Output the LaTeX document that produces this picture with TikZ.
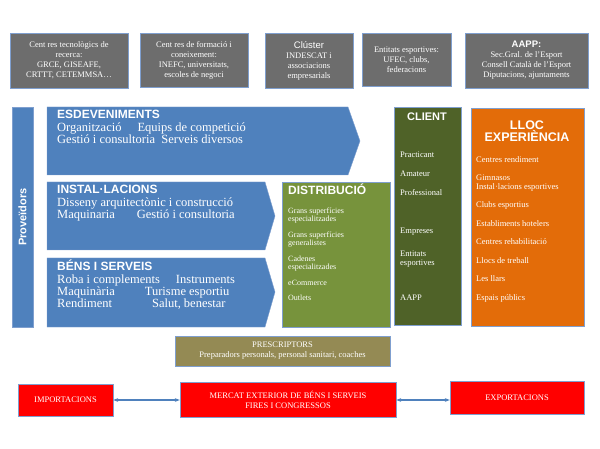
\documentclass[tikz,border=0pt]{standalone}
\usepackage{fontspec}
\setmainfont{Liberation Serif}
\newfontfamily\hdr{Liberation Sans}
\usetikzlibrary{shapes.arrows,arrows.meta}
\definecolor{boxgray}{HTML}{6D6D6D}
\definecolor{edgeblue}{HTML}{7F9FCF}
\definecolor{flowblue}{HTML}{4F81BD}
\definecolor{distgreen}{HTML}{77933C}
\definecolor{clientgreen}{HTML}{4F6228}
\definecolor{placeorange}{HTML}{E36C09}
\definecolor{prescolive}{HTML}{948A54}
\tikzset{
  topbox/.style={draw=edgeblue,fill=boxgray,text=white,align=center,font=\rmfamily\fontsize{8.5}{10}\selectfont,inner sep=0pt},
  flowtext/.style={text=white,anchor=north west,align=left,inner sep=0pt},
  redbox/.style={draw=edgeblue,fill=red,text=white,align=center,font=\rmfamily\fontsize{8.5}{10.5}\selectfont},
  link/.style={<->,>={Stealth[length=5pt]},very thick,color=flowblue}
}
\newcommand{\headtxt}[1]{{\hdr\bfseries\fontsize{12}{12}\selectfont #1}}
\newcommand{\bodytxt}{\rmfamily\mdseries\fontsize{12.5}{14}\selectfont}
\begin{document}
\begin{tikzpicture}[x=1pt,y=-1pt]
    \useasboundingbox (0,0) rectangle (600,449);
    % top row
    \draw [topbox] (10,33) rectangle (128,88) node [midway] (tec) {Cent res tecnològics de\\recerca:\\GRCE, GISEAFE,\\CRTTT, CETEMMSA\dots};
    \draw [topbox] (140,33) rectangle (248,87) node [midway] (form) {Cent res de formació i\\coneixement:\\INEFC, universitats,\\escoles de negoci};
    \draw [topbox] (265,33) rectangle (353,88) node [midway] (clus) {{\hdr\fontsize{9.5}{10}\selectfont Clúster}\\INDESCAT i\\associacions\\empresarials};
    \draw [topbox] (362,33) rectangle (451,86) node [midway] (ent) {Entitats esportives:\\UFEC, clubs,\\federacions};
    \draw [topbox] (465,33) rectangle (588,88) node [midway] (aapp) {{\hdr\bfseries\fontsize{9.5}{10}\selectfont AAPP:}\\Sec.Gral. de l'Esport\\Consell Català de l'Esport\\Diputacions, ajuntaments};
    % proveidors
    \draw [draw=edgeblue,fill=flowblue] (12,107) rectangle (33,327) node [midway,rotate=90,text=white,font=\hdr\bfseries\fontsize{11}{12}\selectfont] (prov) {Proveïdors};
    % flow arrows
    \draw [draw=edgeblue,fill=flowblue] (47,107) -- (348,107) -- (360,141) -- (348,175) -- (47,175) -- cycle;
    \node [flowtext] (esd) at (57,110) {\headtxt{ESDEVENIMENTS}\\[1pt]
      \bodytxt Organització\hspace{16pt}Equips de competició\\\bodytxt Gestió i consultoria\ \ Serveis diversos};
    \draw [draw=edgeblue,fill=flowblue] (47,182) -- (265,182) -- (275,216) -- (265,250) -- (47,250) -- cycle;
    \node [flowtext] (inst) at (57,185) {\headtxt{INSTAL·LACIONS}\\[1pt]
      \bodytxt Disseny arquitectònic i construcció\\\bodytxt Maquinaria\hspace{22pt}Gestió i consultoria};
    \draw [draw=edgeblue,fill=flowblue] (47,258) -- (265,258) -- (275,292) -- (265,327) -- (47,327) -- cycle;
    \node [flowtext] (bens) at (57,260) {\headtxt{BÉNS I SERVEIS}\\[1pt]
      \bodytxt Roba i complements\hspace{16pt}Instruments\\\bodytxt Maquinària\hspace{30pt}Turisme esportiu\\\bodytxt Rendiment\hspace{40pt}Salut, benestar};
    % distribucio
    \draw [draw=edgeblue,fill=distgreen] (282,182) rectangle (390,327);
    \node [flowtext,font=\rmfamily\fontsize{8}{8.5}\selectfont] (dist) at (288,184) {\headtxt{DISTRIBUCIÓ}\\[10pt]
      Grans superfícies\\especialitzades\\[7pt]Grans superfícies\\generalistes\\[7pt]Cadenes\\especialitzades\\[7pt]eCommerce\\[7pt]Outlets};
    % client
    \draw [draw=edgeblue,fill=clientgreen] (394,107) rectangle (461,325);
    \node [text=white,font=\hdr\bfseries\fontsize{11}{12}\selectfont] (cli) at (427,117) {CLIENT};
    \node [flowtext,font=\rmfamily\fontsize{8.5}{9}\selectfont] (clil) at (400,152) {Practicant\\[10pt]Amateur\\[10pt]Professional\\[29pt]Empreses\\[14pt]Entitats\\esportives\\[26pt]AAPP};
    % lloc experiencia
    \draw [draw=edgeblue,fill=placeorange] (471,108) rectangle (584,326);
    \node [text=white,align=center,font=\hdr\bfseries\fontsize{12.5}{12.5}\selectfont] (lloc) at (527,131) {LLOC\\EXPERIÈNCIA};
    \node [flowtext,font=\rmfamily\fontsize{8.5}{8.5}\selectfont] (llocl) at (476,156) {Centres rendiment\\[10pt]Gimnasos\\Instal·lacions esportives\\[10pt]Clubs esportius\\[10pt]Establiments hotelers\\[10pt]Centres rehabilitació\\[10pt]Llocs de treball\\[10pt]Les llars\\[10pt]Espais públics};
    % prescriptors
    \draw [draw=edgeblue,fill=prescolive] (175,336) rectangle (390,366) node [midway,text=white,align=center,font=\rmfamily\fontsize{8.5}{10}\selectfont] (presc) {PRESCRIPTORS\\Preparadors personals, personal sanitari, coaches};
    % exterior
    \node [redbox,minimum width=95pt,minimum height=32pt] (imp) at (65.5,400) {IMPORTACIONS};
    \node [redbox,minimum width=216pt,minimum height=35pt] (merc) at (288,400) {MERCAT EXTERIOR DE BÉNS I SERVEIS\\FIRES I CONGRESSOS};
    \node [redbox,minimum width=134pt,minimum height=33pt] (exp) at (517,398) {EXPORTACIONS};
    \draw [link] (imp.east |- merc) -- (merc.west);
    \draw [link] (merc.east) -- (exp.west |- merc);
\end{tikzpicture}
\end{document}
